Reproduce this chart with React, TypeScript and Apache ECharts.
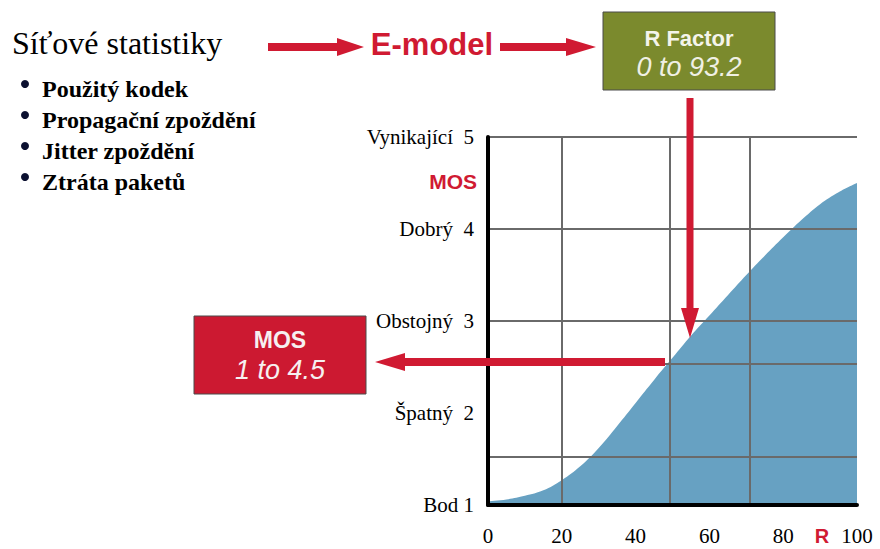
import React, { useEffect, useRef } from "react";
import * as echarts from "echarts";

const R_VALUES = [0, 5, 10, 15, 20, 25, 30, 35, 40, 45, 50, 55, 60, 65, 70, 75, 80, 85, 90, 95, 100];
const MOS_VALUES = [1.04, 1.06, 1.1, 1.16, 1.27, 1.42, 1.62, 1.86, 2.11, 2.36, 2.6, 2.84, 3.06, 3.28, 3.5, 3.71, 3.91, 4.1, 4.27, 4.4, 4.5];
const Y_TICK_LABELS = ["Bod 1", "Špatný  2", "Obstojný  3", "Dobrý  4", "Vynikající  5"];
const GRID_X = [20, 49.3, 71];
const GRID_Y = [5, 4, 3, 2.54, 1.52];
const TITLE = "Síťové statistiky";
const BULLETS = ["Použitý kodek", "Propagační zpoždění", "Jitter zpoždění", "Ztráta paketů"];

const RED = "#d01a32";
const SERIF = "'Liberation Serif', 'Times New Roman', serif";
const SANS = "'Liberation Sans', Arial, sans-serif";

function txt(x: number, y: number, text: string, opts: any) {
  const family = opts.family || SERIF;
  const weight = opts.weight || "normal";
  const fstyle = opts.style || "normal";
  return {
    type: "text",
    x,
    y,
    z: 20,
    style: {
      text,
      font: `${fstyle} ${weight} ${opts.size}px ${family}`,
      fill: opts.fill || "#000",
      align: opts.align || "left",
      textAlign: opts.align || "left",
      verticalAlign: "middle",
      textVerticalAlign: "middle",
    },
  };
}

function poly(points: number[][], fill: string) {
  return { type: "polygon", z: 20, shape: { points }, style: { fill } };
}

export default function App() {
  const ref = useRef<HTMLDivElement>(null);
  useEffect(() => {
    if (!ref.current) return;
    const chart = echarts.init(ref.current, undefined, { renderer: "svg" });
    const data = R_VALUES.map((r, i) => [r, MOS_VALUES[i]]);
    const graphic: any[] = [];
    graphic.push(txt(12, 43, TITLE, { size: 32 }));
    const bulletY = [89, 120, 151, 182];
    BULLETS.forEach((b, i) => {
      graphic.push({ type: "circle", z: 20, shape: { cx: 25, cy: bulletY[i] - 5, r: 4 }, style: { fill: "#0b1030" } });
      graphic.push(txt(42, bulletY[i], b, { size: 24, weight: "bold" }));
    });
    // top arrows
    graphic.push(poly([[268, 43], [337, 43], [337, 38], [364, 47], [337, 56], [337, 51], [268, 51]], RED));
    graphic.push(txt(432, 44, "E-model", { family: SANS, size: 31, weight: "bold", fill: RED, align: "center" }));
    graphic.push(poly([[500, 43], [566, 43], [566, 38], [596, 47], [566, 56], [566, 51], [500, 51]], RED));
    // R factor box
    graphic.push({ type: "rect", z: 19, shape: { x: 603, y: 12, width: 172, height: 78 }, style: { fill: "#7b8a2d", stroke: "#4a4a4a", lineWidth: 1 } });
    graphic.push(txt(689, 38, "R Factor", { family: SANS, size: 22, weight: "bold", fill: "#f4f4ea", align: "center" }));
    graphic.push(txt(689, 67, "0 to 93.2", { family: SANS, size: 27, style: "italic", fill: "#f0f0e4", align: "center" }));
    // vertical arrow
    graphic.push(poly([[686.5, 98], [693.5, 98], [693.5, 308], [699, 308], [690, 338], [681, 308], [686.5, 308]], RED));
    // horizontal arrow
    graphic.push(poly([[665, 358], [665, 366], [405, 366], [405, 371], [375, 362], [405, 353], [405, 358]], RED));
    // MOS box
    graphic.push({ type: "rect", z: 19, shape: { x: 194, y: 316, width: 172, height: 78 }, style: { fill: "#cc1931", stroke: "#4a4a4a", lineWidth: 1 } });
    graphic.push(txt(280, 340, "MOS", { family: SANS, size: 23, weight: "bold", fill: "#f6f0f0", align: "center" }));
    graphic.push(txt(280, 370, "1 to 4.5", { family: SANS, size: 27, style: "italic", fill: "#f6f0f0", align: "center" }));
    // axis names
    graphic.push(txt(477, 181, "MOS", { family: SANS, size: 21, weight: "bold", fill: RED, align: "right" }));
    graphic.push(txt(822, 536, "R", { family: SANS, size: 20, weight: "bold", fill: RED, align: "center" }));

    chart.setOption({
      animation: false,
      backgroundColor: "#fff",
      grid: { left: 488, right: 23, top: 137, bottom: 44 },
      xAxis: {
        type: "value",
        min: 0,
        max: 100,
        interval: 20,
        z: 5,
        axisLine: { show: true, onZero: false, lineStyle: { color: "#000", width: 4 } },
        axisTick: { show: false },
        splitLine: { show: false },
        axisLabel: { margin: 20, fontFamily: SERIF, fontSize: 21, color: "#000" },
      },
      yAxis: {
        type: "value",
        min: 1,
        max: 5,
        interval: 1,
        z: 5,
        axisLine: { show: true, onZero: false, lineStyle: { color: "#000", width: 4 } },
        axisTick: { show: false },
        splitLine: { show: false },
        axisLabel: {
          margin: 14,
          fontFamily: SERIF,
          fontSize: 21,
          color: "#000",
          formatter: (v: number) => Y_TICK_LABELS[Math.round(v) - 1] || "",
        },
      },
      series: [
        {
          type: "line",
          data,
          smooth: 0.4,
          symbol: "none",
          lineStyle: { width: 0 },
          areaStyle: { color: "#67a1c2", opacity: 1, origin: "start" },
          markLine: {
            silent: true,
            symbol: ["none", "none"],
            label: { show: false },
            lineStyle: { color: "#6a6a6a", width: 2, type: "solid" },
            data: [...GRID_X.map((x) => ({ xAxis: x })), ...GRID_Y.map((y) => ({ yAxis: y }))],
          },
        },
      ],
      graphic,
    });
    return () => chart.dispose();
  }, []);
  return (
    <div
      ref={ref}
      style={{ position: "fixed", left: 0, top: 0, width: 880, height: 549, background: "#fff" }}
    />
  );
}
